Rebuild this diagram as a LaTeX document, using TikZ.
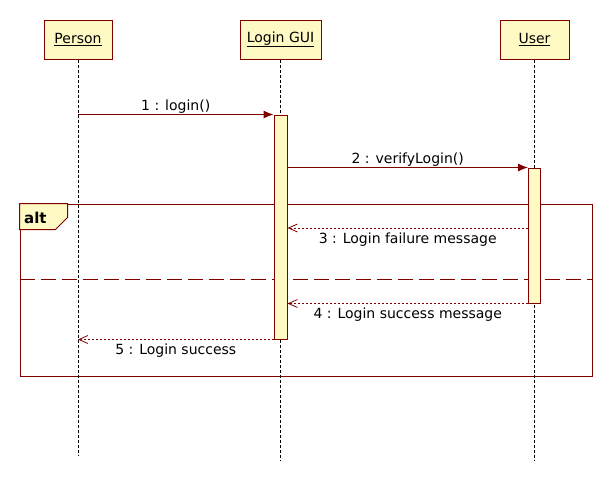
\documentclass[tikz,border=0pt]{standalone}
\usepackage{fontspec}
\setmainfont{DejaVu Sans}
\usetikzlibrary{arrows.meta,calc,positioning}
\definecolor{umlred}{RGB}{128,0,0}
\definecolor{umlfill}{RGB}{255,249,196}
\tikzset{
   object/.style={ rectangle, draw=umlred, fill=umlfill, line width=1pt, minimum height=39pt, inner sep=0pt, text centered, font=\fontsize{14}{16}\selectfont},
   activation/.style={ rectangle, draw=umlred, fill=umlfill, line width=1pt, minimum width=13pt, inner sep=0pt},
   life line/.style={ draw=black, line width=0.8pt, dash pattern=on 3pt off 2pt},
   guard line/.style={ draw=umlred, line width=1pt, dash pattern=on 15pt off 6pt},
   call/.style={ draw=umlred, line width=1pt, -{Latex[length=10pt,width=8pt]}},
   reply/.style={ draw=umlred, line width=0.8pt, dash pattern=on 2pt off 2pt, -{Straight Barb[length=9pt,width=8pt,line width=0.8pt]}},
   msg/.style={ font=\fontsize{14}{16}\selectfont, inner sep=1pt},
}

\begin{document}
\begin{tikzpicture}[x=1pt,y=-1pt]

  \useasboundingbox (0,0) rectangle (612,480);

  %% Combined fragment
  \node[rectangle, draw=umlred, line width=1pt, minimum width=572pt, minimum height=172pt, inner sep=0pt] at (306,290) (alt frame) {};
  \draw[draw=umlred, fill=umlfill, line width=1pt] (alt frame.north west) -- ++(48,0) -- ++(0,14) -- ++(-12,12) -- ++(-36,0) -- cycle;
  \node[font=\bfseries\fontsize{15}{17}\selectfont, anchor=west, inner sep=0pt] at ($(alt frame.north west)+(4.5,14)$) (alt label) {alt};
  \draw[guard line] (alt frame.west |- 0,279) -- (alt frame.east |- 0,279);

  %% Lifelines
  \node[object, minimum width=68pt] at (78,39.5)    (person) {\underline{Person}};
  \node[object, minimum width=81pt] at (280.5,39.5) (gui)    {\underline{Login GUI}};
  \node[object, minimum width=69pt] at (534.5,39.5) (user)   {\underline{User}};

  \coordinate (person end) at (person.south |- 0,455);
  \coordinate (gui end)    at (gui.south |- 0,460);
  \coordinate (user end)   at (user.south |- 0,460);

  \draw[life line] (person) -- (person end);
  \draw[life line] (gui) -- (gui end);
  \draw[life line] (user) -- (user end);

  \node[activation, minimum height=224pt] at (gui.south |- 0,227)                      (gui act)  {};
  \node[activation, minimum height=135pt, minimum width=12pt] at (user.south |- 0,235.5) (user act) {};

  %% Messages
  \draw[call] (person.south |- gui act.north) -- node[msg, above] {1 : login()} (gui act.north west);
  \draw[call] (gui act.east |- user act.north) -- node[msg, above] {2 : verifyLogin()} (user act.north west);

  \coordinate (failure start) at (user act.west |- 0,228);
  \coordinate (failure end)   at (gui act.east |- 0,228);
  \draw[reply] (failure start) -- node[msg, below=3pt] {3 : Login failure message} (failure end);

  \draw[reply] (user act.south west) -- node[msg, below=3pt] {4 : Login success message} (gui act.east |- user act.south);
  \draw[reply] (gui act.south west) -- node[msg, below=3pt] {5 : Login success} (person.south |- gui act.south);

\end{tikzpicture}
\end{document}
